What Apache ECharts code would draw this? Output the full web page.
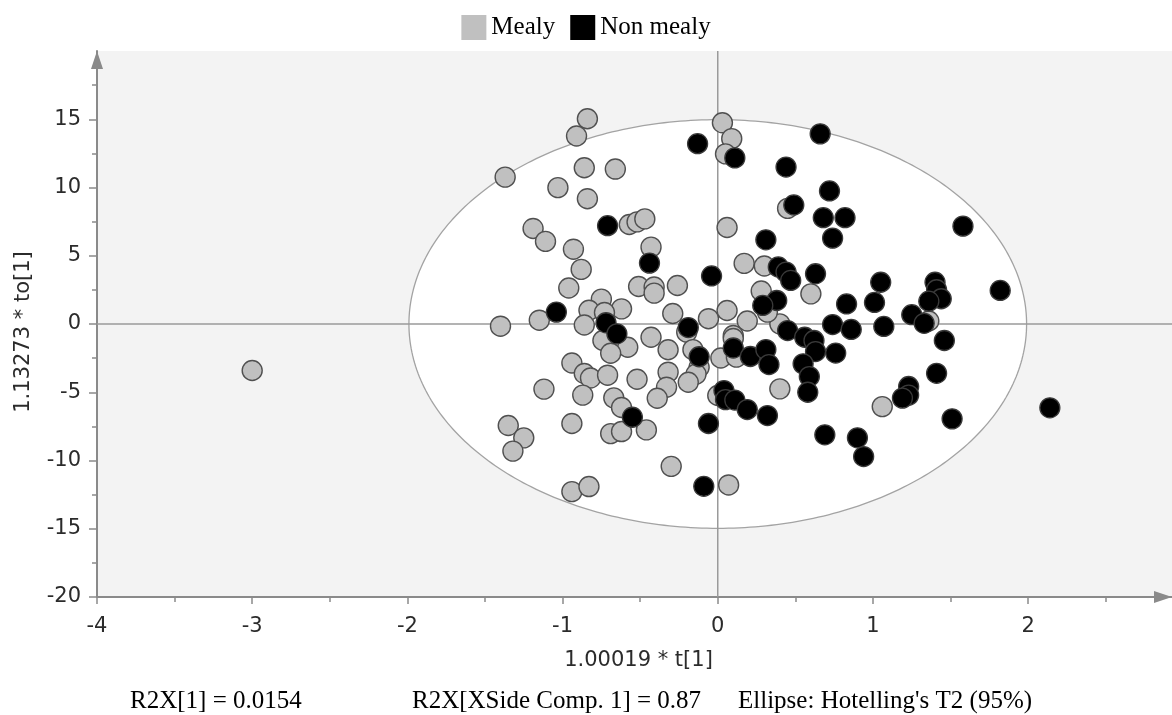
<!DOCTYPE html>
<html>
<head>
<meta charset="utf-8">
<script src="https://cdn.jsdelivr.net/npm/echarts@6/dist/echarts.min.js"></script>
<style>
  html, body { margin: 0; padding: 0; background: #ffffff; }
  #chart { width: 1172px; height: 715px; }
</style>
</head>
<body>
<div id="chart"></div>
<script>
// Class names shown in the legend
const seriesNames = ['Mealy', 'Non mealy'];

// Scores [1.00019 * t[1], 1.13273 * to[1]] for each sample
const mealy = [
  [-3.00, -3.41], [-1.40, -0.16], [-1.37, 10.76], [-0.84, 15.04], [-0.91, 13.77],
  [-0.86, 11.45], [-0.66, 11.35], [-1.03, 9.99], [-0.84, 9.18], [-0.57, 7.29],
  [-0.52, 7.48], [-0.47, 7.70], [-1.19, 7.00], [-1.11, 6.05], [-0.93, 5.48],
  [-0.43, 5.63], [-0.88, 4.00], [-0.96, 2.64], [-0.51, 2.75], [-0.41, 2.71],
  [-0.41, 2.26], [-0.26, 2.82], [-0.75, 1.82], [-0.83, 1.01], [-0.62, 1.11],
  [-0.73, 0.84], [-1.15, 0.28], [-0.86, -0.07], [-0.74, -1.21], [-0.58, -1.70],
  [-0.69, -2.14], [-0.43, -0.97], [-0.32, -1.89], [-0.29, 0.77], [-0.20, -0.60],
  [-0.16, -1.88], [-0.12, -3.17], [-0.14, -3.67], [-0.19, -4.27], [-0.06, 0.39],
  [0.06, 0.99], [0.19, 0.22], [0.02, -2.49], [0.10, -0.84], [0.10, -1.06],
  [0.12, -2.43], [0.40, 0.01], [0.40, -4.75], [-0.94, -2.86], [-0.86, -3.63],
  [-0.82, -3.96], [-0.71, -3.75], [-0.52, -4.05], [-0.32, -3.53], [-0.33, -4.63],
  [-0.39, -5.44], [-1.12, -4.77], [-0.87, -5.21], [-0.67, -5.41], [-0.62, -6.12],
  [-0.94, -7.29], [-1.35, -7.44], [-1.25, -8.34], [-1.32, -9.31], [-0.69, -8.03],
  [-0.62, -7.88], [-0.46, -7.76], [0.00, -5.24], [-0.30, -10.43], [0.07, -11.79],
  [-0.94, -12.28], [-0.83, -11.91], [0.03, 14.74], [0.09, 13.58], [0.05, 12.46],
  [0.06, 7.07], [0.17, 4.44], [0.30, 4.25], [0.28, 2.42], [0.32, 0.87],
  [0.60, 2.21], [0.45, 8.47], [1.06, -6.05], [1.36, 0.22]
];

const nonMealy = [
  [2.14, -6.14], [1.82, 2.46], [1.58, 7.17], [0.66, 13.93], [0.44, 11.50],
  [0.72, 9.75], [0.49, 8.72], [0.68, 7.79], [0.82, 7.79], [0.74, 6.29],
  [0.31, 6.17], [-0.13, 13.21], [0.11, 12.17], [-0.71, 7.20], [-0.44, 4.46],
  [-0.04, 3.52], [0.39, 4.18], [0.44, 3.80], [0.47, 3.19], [0.63, 3.68],
  [0.38, 1.72], [0.29, 1.36], [1.05, 3.06], [1.01, 1.58], [0.83, 1.47],
  [1.40, 3.06], [1.41, 2.51], [1.44, 1.85], [1.36, 1.67], [1.25, 0.68],
  [1.33, 0.05], [0.74, -0.04], [0.86, -0.40], [1.07, -0.18], [0.45, -0.48],
  [0.56, -0.97], [0.62, -1.21], [0.63, -2.02], [0.76, -2.13], [1.46, -1.21],
  [0.55, -2.92], [0.59, -3.85], [0.58, -5.00], [1.41, -3.61], [1.23, -4.58],
  [1.23, -5.21], [1.19, -5.43], [1.51, -6.95], [0.69, -8.12], [0.90, -8.34],
  [0.94, -9.71], [-1.04, 0.87], [-0.72, 0.09], [-0.65, -0.72], [-0.19, -0.26],
  [-0.12, -2.40], [-0.55, -6.83], [0.10, -1.76], [0.21, -2.38], [0.31, -1.87],
  [0.33, -2.97], [0.04, -4.88], [0.05, -5.54], [0.11, -5.57], [0.19, -6.27],
  [0.32, -6.71], [-0.06, -7.29], [-0.09, -11.89]
];

// Axis ranges and tick positions
const xRange = [-4, 2.927];
const yRange = [-20, 20];
const xMajorTicks = [-4, -3, -2, -1, 0, 1, 2];
const xMinorTicks = [-3.5, -2.5, -1.5, -0.5, 0.5, 1.5, 2.5];
const yMajorTicks = [-20, -15, -10, -5, 0, 5, 10, 15];
const yMinorTicks = [-17.5, -12.5, -7.5, -2.5, 2.5, 7.5, 12.5, 17.5];

// Hotelling's T2 (95%) ellipse semi-axes in score units
const ellipseSemiAxes = [1.99, 14.97];

const xAxisName = '1.00019 * t[1]';
const yAxisName = '1.13273 * to[1]';
const footnotes = ['R2X[1] = 0.0154', 'R2X[XSide Comp. 1] = 0.87', "Ellipse: Hotelling's T2 (95%)"];

const AXIS_GREY = '#8a8a8a';
const LABEL_COLOR = '#2b2b2b';
const SANS = 'DejaVu Sans';
const SERIF = 'Liberation Serif';

const chart = echarts.init(document.getElementById('chart'), null, { renderer: 'canvas' });

function arrowLine() {
  return {
    show: true,
    onZero: false,
    symbol: ['none', 'triangle'],
    symbolSize: [12, 18],
    symbolOffset: [0, -9],
    lineStyle: { color: AXIS_GREY, width: 2 }
  };
}

// Ellipse plus the zero cross lines, drawn beneath the points
function renderBackdrop(params, api) {
  const c = api.coord([0, 0]);
  const rx = api.coord([ellipseSemiAxes[0], 0])[0] - c[0];
  const ry = c[1] - api.coord([0, ellipseSemiAxes[1]])[1];
  const pts = [];
  for (let i = 0; i < 360; i++) {
    const t = i * Math.PI / 180;
    pts.push([c[0] + rx * Math.cos(t), c[1] + ry * Math.sin(t)]);
  }
  const top = api.coord([0, yRange[1]]);
  const bottom = api.coord([0, yRange[0]]);
  const left = api.coord([xRange[0], 0]);
  const right = api.coord([xRange[1], 0]);
  return {
    type: 'group',
    children: [
      { type: 'polygon', shape: { points: pts }, style: { fill: '#ffffff', stroke: '#a3a3a3', lineWidth: 1.3 } },
      { type: 'line', shape: { x1: top[0], y1: top[1], x2: bottom[0], y2: bottom[1] }, style: { stroke: '#9a9a9a', lineWidth: 1.5 } },
      { type: 'line', shape: { x1: left[0], y1: left[1], x2: right[0], y2: right[1] }, style: { stroke: '#9a9a9a', lineWidth: 1.5 } }
    ]
  };
}

const option = {
  backgroundColor: '#ffffff',
  animation: false,
  legend: {
    data: seriesNames,
    top: 10,
    left: 'center',
    icon: 'rect',
    itemWidth: 25,
    itemHeight: 25,
    itemGap: 15,
    itemStyle: { borderWidth: 0 },
    textStyle: { fontFamily: SERIF, fontSize: 25, color: '#000000' }
  },
  grid: {
    left: 97,
    right: 0,
    top: 51,
    bottom: 118,
    show: true,
    backgroundColor: '#f3f3f3',
    borderWidth: 0
  },
  xAxis: [
    {
      type: 'value',
      min: xRange[0],
      max: xRange[1],
      position: 'bottom',
      axisLine: arrowLine(),
      axisTick: { show: true, length: 7, customValues: xMajorTicks, lineStyle: { color: AXIS_GREY, width: 1.5 } },
      axisLabel: { show: true, customValues: xMajorTicks, margin: 19, fontFamily: SANS, fontSize: 21, color: LABEL_COLOR },
      splitLine: { show: false },
      name: xAxisName,
      nameLocation: 'middle',
      nameGap: 53,
      nameTextStyle: { fontFamily: SANS, fontSize: 21, color: LABEL_COLOR, padding: [0, 0, 0, 8] }
    },
    {
      type: 'value',
      min: xRange[0],
      max: xRange[1],
      position: 'bottom',
      axisLine: { show: false, onZero: false },
      axisTick: { show: true, length: 5, customValues: xMinorTicks, lineStyle: { color: AXIS_GREY, width: 1.5 } },
      axisLabel: { show: false },
      splitLine: { show: false }
    }
  ],
  yAxis: [
    {
      type: 'value',
      min: yRange[0],
      max: yRange[1],
      position: 'left',
      axisLine: arrowLine(),
      axisTick: { show: true, length: 8, customValues: yMajorTicks, lineStyle: { color: AXIS_GREY, width: 1.5 } },
      axisLabel: { show: true, customValues: yMajorTicks, margin: 16, fontFamily: SANS, fontSize: 21, color: LABEL_COLOR },
      splitLine: { show: false },
      name: yAxisName,
      nameLocation: 'middle',
      nameGap: 63,
      nameTextStyle: { fontFamily: SANS, fontSize: 21, color: LABEL_COLOR, padding: [0, 16, 0, 0] }
    },
    {
      type: 'value',
      min: yRange[0],
      max: yRange[1],
      position: 'left',
      axisLine: { show: false, onZero: false },
      axisTick: { show: true, length: 5, customValues: yMinorTicks, lineStyle: { color: AXIS_GREY, width: 1.5 } },
      axisLabel: { show: false },
      splitLine: { show: false }
    }
  ],
  series: [
    {
      type: 'custom',
      name: 'ellipse',
      silent: true,
      z: 1,
      xAxisIndex: 0,
      yAxisIndex: 0,
      data: [[0, 0]],
      renderItem: renderBackdrop
    },
    {
      type: 'scatter',
      name: seriesNames[0],
      z: 3,
      xAxisIndex: 0,
      yAxisIndex: 0,
      data: mealy,
      symbol: 'circle',
      symbolSize: 20,
      itemStyle: { color: '#c0c0c0', borderColor: '#505050', borderWidth: 1.4, opacity: 1 }
    },
    {
      type: 'scatter',
      name: seriesNames[1],
      z: 4,
      xAxisIndex: 0,
      yAxisIndex: 0,
      data: nonMealy,
      symbol: 'circle',
      symbolSize: 20,
      itemStyle: { color: '#000000', borderColor: '#3a3a3a', borderWidth: 1.3, opacity: 1 }
    }
  ],
  graphic: [
    { type: 'text', left: 130, top: 689, style: { text: footnotes[0], fontFamily: SERIF, fontSize: 25, fill: '#000000' } },
    { type: 'text', left: 412, top: 689, style: { text: footnotes[1], fontFamily: SERIF, fontSize: 25, fill: '#000000' } },
    { type: 'text', left: 738, top: 689, style: { text: footnotes[2], fontFamily: SERIF, fontSize: 25, fill: '#000000' } }
  ]
};

chart.setOption(option);
</script>
</body>
</html>
